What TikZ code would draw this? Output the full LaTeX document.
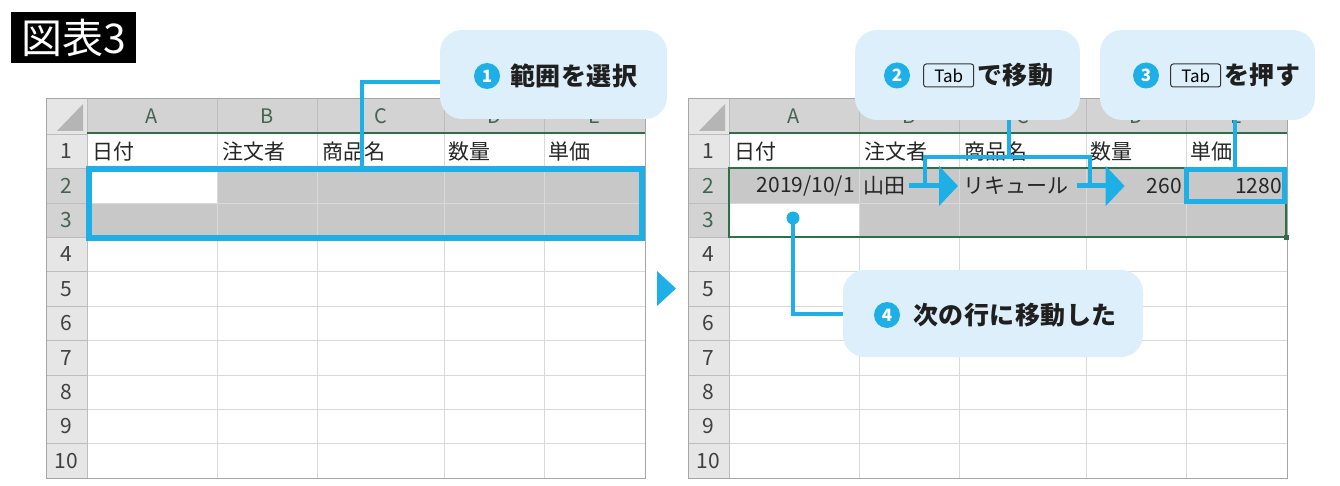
\documentclass[tikz,border=0pt]{standalone}
\usepackage{fontspec}
\setmainfont{Noto Sans CJK JP}
\usepackage{tikz}
\usetikzlibrary{positioning, arrows.meta}
\definecolor{blu}{HTML}{1DAFE6}
\definecolor{azzurro}{HTML}{DDEFFA}
\definecolor{verde}{HTML}{2E6F46}
\definecolor{griglia}{HTML}{D9D9D9}
\definecolor{sepint}{HTML}{BDBDBD}
\definecolor{intesta}{HTML}{E6E6E6}
\definecolor{intestasel}{HTML}{D3D3D3}
\definecolor{selez}{HTML}{C8C8C8}
\definecolor{bordo}{HTML}{A6A6A6}
\definecolor{angolo}{HTML}{B5B5B5}
\definecolor{testoint}{HTML}{44644F}
\tikzset{
  cella/.style={inner sep=0, font=\fontsize{21}{24}\selectfont, text=black!85},
  lettera/.style={inner sep=0, font=\fontsize{20}{24}\selectfont, text=testoint},
  numriga/.style={inner sep=0, font=\fontsize{21}{24}\selectfont, text=black!75},
  titolo/.style={fill=black, text=white, minimum width=125, minimum height=51, inner sep=0, font=\fontsize{41}{44}\selectfont},
  fumetto/.style={fill=azzurro, rounded corners=22, inner sep=0},
  num/.style={circle, fill=blu, text=white, minimum size=26, inner sep=0, font=\fontsize{17}{17}\selectfont\bfseries},
  tasto/.style={draw=black!80, line width=1, rounded corners=2.5, minimum width=50, minimum height=23, inner sep=0, font=\fontsize{17}{17}\selectfont},
  testo/.style={inner sep=0, font=\fontsize{25}{28}\selectfont\bfseries\addfontfeatures{LetterSpace=2}, text=black!88},
  conn/.style={blu, line width=4},
  freccia/.style={blu, line width=5, -{Triangle[length=19pt, width=39pt]}},
}
\newcommand{\foglio}{
    % Intestazioni
    \fill[intesta] (0,98) rectangle (41,478);
    \fill[intestasel] (41,98) rectangle (599,\ytop);
    \fill[intestasel] (0,{\ytop+\hr}) rectangle (41,{\ytop+3*\hr});
    \fill[angolo] (11,131) -- (37,131) -- (37,104) -- cycle;
    % Griglia
    \foreach \c in {171,271,398,498}
        \draw[griglia] (\c,\ytop) -- (\c,478);
    \foreach \c in {171,271,398,498}
        \draw[sepint] (\c,98) -- (\c,\ytop);
    \foreach \r in {1,...,9}
        \draw[griglia] (41,{\ytop+\r*\hr}) -- (599,{\ytop+\r*\hr});
    \foreach \r in {1,...,9}
        \draw[sepint] (0,{\ytop+\r*\hr}) -- (41,{\ytop+\r*\hr});
    \draw[sepint] (41,98) -- (41,478);
    \draw[sepint] (0,\ytop) -- (41,\ytop);
    \draw[verde, line width=2] (41,\ytop-0.5) -- (599,\ytop-0.5);
    \draw[bordo] (0,98) rectangle (599,478);
    % Lettere e numeri
    \foreach \l/\cx in {A/106,B/221,C/334.5,D/448,E/548.5}
        \node[lettera] (l\l) at (\cx,116) {\l};
    \foreach \r in {1,4,5,...,10}
        \node[numriga] (r\r) at (20.5,{\ytop+(\r-0.5)*\hr}) {\r};
    \foreach \r in {2,3}
        \node[numriga, text=testoint] (r\r) at (20.5,{\ytop+(\r-0.5)*\hr}) {\r};
    % Riga 1
    \foreach \t/\cx [count=\i] in {日付/46,注文者/176,商品名/276,数量/402,単価/502}
        \node[cella, anchor=west] (t\i) at (\cx,{\ytop+0.5*\hr}) {\t};
}

\begin{document}
\begin{tikzpicture}[x=1pt, y=-1pt]
    % Parametri
    \pgfmathsetmacro{\hr}{34.4}
    \pgfmathsetmacro{\ytop}{134}
    \useasboundingbox (0,0) rectangle (1340,486);
    % Titolo
    \node[titolo] (tit) at (73.5,37.5) {図表3};
    % Foglio sinistro
    \begin{scope}[shift={(46,0)}, name prefix=sx-]
        \fill[selez] (171,{\ytop+\hr}) rectangle (599,{\ytop+2*\hr});
        \fill[selez] (41,{\ytop+2*\hr}) rectangle (599,{\ytop+3*\hr});
        \foglio
    \end{scope}
    % Foglio destro
    \begin{scope}[shift={(688,0)}, name prefix=dx-]
        \fill[selez] (41,{\ytop+\hr}) rectangle (599,{\ytop+2*\hr});
        \fill[selez] (171,{\ytop+2*\hr}) rectangle (599,{\ytop+3*\hr});
        \foglio
        \draw[verde, line width=1.8] (41,{\ytop+\hr}) rectangle (598,{\ytop+3*\hr});
        \fill[verde] (595.5,{\ytop+3*\hr-2.5}) rectangle (600.5,{\ytop+3*\hr+2.5});
    \end{scope}
    % Triangolo
    \fill[blu] (657,271) -- (676,288.5) -- (657,306) -- cycle;
    % Riga 2 a destra
    \node[cella, anchor=east] (anno) at (855,186) {2019/10/1};
    \node[cella, anchor=west] (nome) at (863,186) {山田};
    \node[cella, anchor=west] (prod) at (963,186) {リキュール};
    \node[cella, anchor=east] (qta) at (1182,186) {260};
    \node[cella, anchor=east] (prezzo) at (1282,186) {1280};
    % Riquadri blu
    \node[draw=blu, line width=6, minimum width=553, minimum height=69, inner sep=0] (sel) at (365.5,203.5) {};
    \node[draw=blu, line width=5, minimum width=98, minimum height=32, inner sep=0] (boxE) at (1235,186) {};
    % Fumetti
    \node[fumetto, minimum width=227, minimum height=89] (c1) at (553.5,74.5) {};
    \node[fumetto, minimum width=225, minimum height=90] (c2) at (967.5,75) {};
    \node[fumetto, minimum width=215, minimum height=90] (c3) at (1207.5,75) {};
    \node[fumetto, minimum width=300, minimum height=87] (c4) at (993,313.5) {};
    % Collegamenti
    \coordinate (g1) at (362,82);
    \coordinate (g2) at (1009,157);
    \coordinate (s1) at (925,187);
    \coordinate (s2) at (1090,187);
    \coordinate (dot) at (793,218);
    \fill[blu] (dot) circle (6.5);
    \draw[conn] (c1.west |- g1) -- (g1) -- (g1 |- sel.north);
    \draw[conn] (c2.south -| g2) -- (g2);
    \draw[conn] (s1) |- (g2) -| (s2);
    \draw[conn] (c3.south -| boxE.north) -- (boxE.north);
    \draw[conn] (dot) |- (c4.west);
    \draw[freccia, shorten <=4pt, shorten >=5pt] (nome.east) -- (prod.west);
    \draw[freccia, shorten <=9pt, shorten >=22pt] (prod.east) -- (qta.west);
    % Testi dei fumetti
    \node[num] (n1) at (487,76) {1};
    \node[testo, right=10pt of n1] (f1) {範囲を選択};
    \node[num] (n2) at (897,75.5) {2};
    \node[tasto, right=13pt of n2] (k2) {Tab};
    \node[testo, right=3pt of k2] (f2) {で移動};
    \node[num] (n3) at (1146,75.5) {3};
    \node[tasto, right=11pt of n3] (k3) {Tab};
    \node[testo, right=3pt of k3] (f3) {を押す};
    \node[num] (n4) at (887,315) {4};
    \node[testo, right=13pt of n4] (f4) {次の行に移動した};
\end{tikzpicture}
\end{document}
